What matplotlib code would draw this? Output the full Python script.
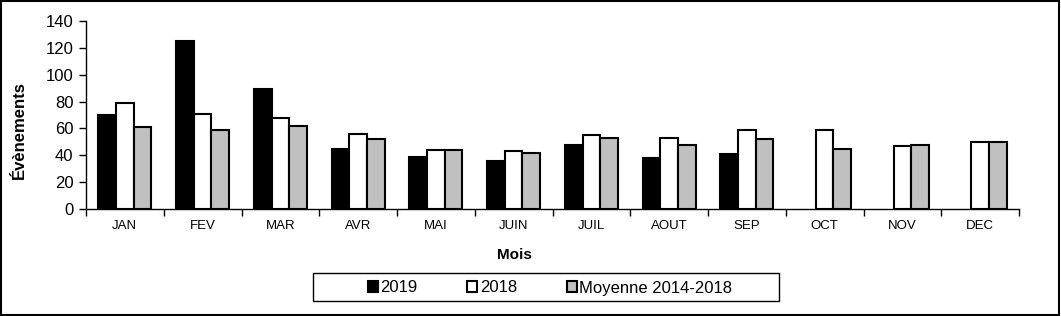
import numpy as np
from matplotlib import pyplot as plt
from matplotlib.patches import Rectangle

plt.rcParams['font.family'] = ['Liberation Sans', 'DejaVu Sans']

mois = ["JAN", "FEV", "MAR", "AVR", "MAI", "JUIN", "JUIL", "AOUT", "SEP", "OCT", "NOV", "DEC"]
val_2019 = [70, 125, 89, 45, 39, 36, 48, 38, 41, np.nan, np.nan, np.nan]
val_2018 = [79, 71, 68, 56, 44, 43, 55, 53, 59, 59, 47, 50]
moyenne = [61, 59, 62, 52, 44, 42, 53, 48, 52, 45, 48, 50]

W, H = 1061, 316
fig = plt.figure(figsize=(W / 100, H / 100), dpi=100)
ax = fig.add_axes([86 / W, 1 - 209 / H, (1019 - 86) / W, (209 - 21) / H])

x = np.arange(len(mois))
w = 0.228
ax.bar(x - w, val_2019, w, color='black', edgecolor='black', linewidth=1.5, label="2019")
ax.bar(x, val_2018, w, color='white', edgecolor='black', linewidth=1.5, label="2018")
ax.bar(x + w, moyenne, w, color='#c0c0c0', edgecolor='black', linewidth=1.5, label="Moyenne 2014-2018")

ax.set_xlim(-0.5, len(mois) - 0.5)
ax.set_ylim(0, 140)
ax.set_yticks(range(0, 141, 20))
ax.tick_params(axis='y', labelsize=12, direction='out', length=5, width=1, pad=4)

ax.set_xticks(np.arange(-0.5, len(mois), 1))
ax.set_xticklabels([])
ax.tick_params(axis='x', which='major', direction='out', length=5, width=1)
ax.set_xticks(x, minor=True)
ax.set_xticklabels(mois, minor=True, fontsize=9.5)
ax.tick_params(axis='x', which='minor', length=0, pad=8)

for s in ['top', 'right']:
    ax.spines[s].set_visible(False)
ax.spines['left'].set_linewidth(1)
ax.spines['bottom'].set_linewidth(1)

fig.text(19 / W, 1 - 130 / H, "Évènements", rotation=90, ha='center', va='center',
         fontsize=12, fontweight='bold')
fig.text(514 / W, 1 - 255 / H, "Mois", ha='center', va='center', fontsize=11, fontweight='bold')

leg = fig.legend(loc='center', bbox_to_anchor=(550 / W, 1 - 288 / H), ncol=3, frameon=False,
                 fontsize=12, handlelength=0.6, handleheight=0.6, handletextpad=0.15,
                 columnspacing=3.0)

fig.patches.append(Rectangle((313 / W, 1 - 301 / H), (779 - 313) / W, 28 / H, transform=fig.transFigure,
                             fill=False, edgecolor='black', linewidth=1))
fig.patches.append(Rectangle((0.001, 0.002), 0.997, 0.995, transform=fig.transFigure,
                             fill=False, edgecolor='black', linewidth=1.5))

fig.savefig("out.png", dpi=100)
